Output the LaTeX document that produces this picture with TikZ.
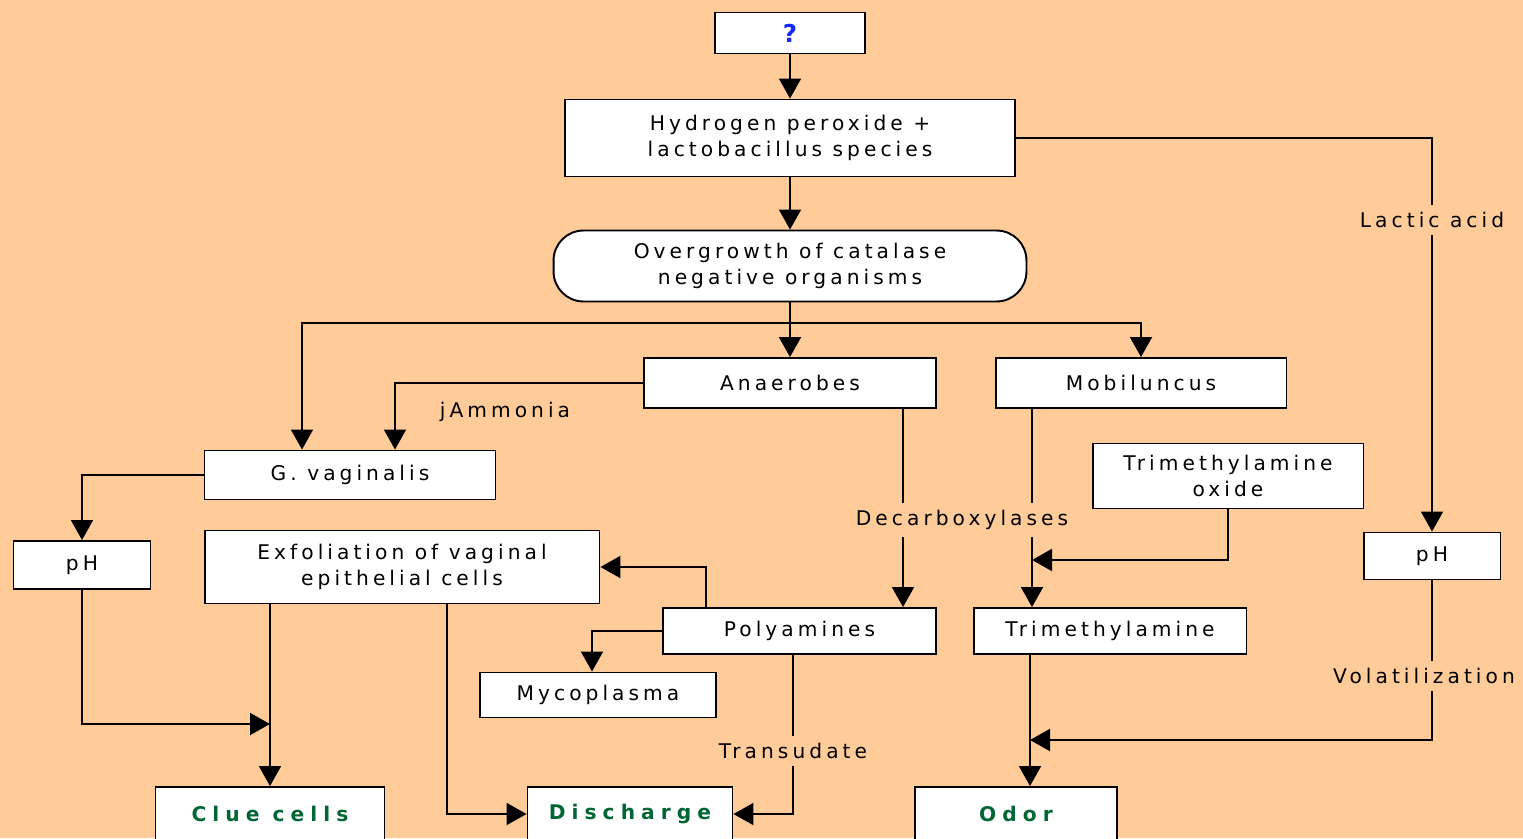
\documentclass[tikz,border=0pt]{standalone}
\usepackage{fontspec}
\setmainfont{DejaVu Sans}[LetterSpace=20,BoldFeatures={LetterSpace=30}]
\usetikzlibrary{arrows.meta}
\definecolor{peach}{RGB}{255,204,153}
\definecolor{resgreen}{RGB}{0,102,51}
\definecolor{qblue}{RGB}{20,40,255}

\begin{document}
\begin{tikzpicture}[x=0.02cm,y=-0.02cm,line width=1.1pt,
                    >={Triangle[length=0.4cm,width=0.44cm]},
                    every node/.style={font=\fontsize{11.5}{14.8}\selectfont},
                    box/.style={draw,fill=white,inner sep=0pt,align=center},
                    res/.style={box,text=resgreen,font=\fontsize{11.5}{14.8}\selectfont\bfseries},
                    lbl/.style={fill=peach,inner xsep=2pt,inner ysep=0.14cm}]

\useasboundingbox (0,0) rectangle (1523,838);
\clip (0,0) rectangle (1523,838);
\fill[peach] (0,0) rectangle (1523,838);

\node[box,minimum width=3cm,minimum height=0.82cm,text=qblue,font=\fontsize{14}{16}\selectfont\bfseries] (q) at (790,33) {?};
\node[box,minimum width=9cm,minimum height=1.54cm] (hp) at (790,138) {Hydrogen peroxide +\\lactobacillus species};
\node[box,rounded corners=0.6cm,minimum width=9.46cm,minimum height=1.42cm] (og) at (790,266) {Overgrowth of catalase\\negative organisms};
\node[box,minimum width=5.84cm,minimum height=1cm] (an) at (790,383) {Anaerobes};
\node[box,minimum width=5.82cm,minimum height=1cm] (mob) at (1141,383) {Mobiluncus};
\node[box,minimum width=5.82cm,minimum height=0.98cm] (gv) at (350,475) {G. vaginalis};
\node[box,minimum width=5.42cm,minimum height=1.3cm] (tmo) at (1228,476) {Trimethylamine\\oxide};
\node[box,minimum width=2.74cm,minimum height=0.96cm] (phl) at (82,565) {pH};
\node[box,minimum width=7.9cm,minimum height=1.46cm] (ex) at (402,567) {Exfoliation of vaginal\\epithelial cells};
\node[box,minimum width=2.74cm,minimum height=0.94cm] (phr) at (1432,556) {pH};
\node[box,minimum width=5.46cm,minimum height=0.92cm] (pa) at (799.5,631) {Polyamines};
\node[box,minimum width=5.46cm,minimum height=0.92cm] (tma) at (1110,631) {Trimethylamine};
\node[box,minimum width=4.72cm,minimum height=0.9cm] (myc) at (598,695) {Mycoplasma};
\node[res,minimum width=4.58cm,minimum height=1.08cm] (clue) at (270,814) {Clue cells};
\node[res,minimum width=4.1cm,minimum height=1.08cm] (dis) at (630,814) {Discharge};
\node[res,minimum width=4.04cm,minimum height=1.08cm] (odor) at (1016,814) {Odor};

\coordinate (split) at (790,323);
\coordinate (decj) at (903,520);
\coordinate (tmaj) at (1032,560);
\coordinate (cluej) at (270,724);
\coordinate (odorj) at (1030,740);

\draw[->] (q) -- (hp);
\draw[->] (hp) -- (og);
\draw[->] (hp.east) -| (phr.north);
\draw[->] (og) -- (an);
\draw[<->] (mob.north) |- (split) -| ([shift={(-48,0)}]gv.north);
\draw[->] (an.west) -| ([shift={(45,0)}]gv.north);
\draw[->] (an.south -| decj) -- (pa.north -| decj);
\draw[->] (mob.south -| tmaj) -- (tma.north -| tmaj);
\draw[->] (tmo.south) |- (tmaj);
\draw[->] (gv.west) -| (phl.north);
\draw[->] (phl.south) |- (cluej);
\draw[->] (ex.south -| cluej) -- (clue.north -| cluej);
\draw[->] ([shift={(45,0)}]ex.south) |- (dis.west);
\draw[->] ([shift={(-93.5,0)}]pa.north) |- (ex.east);
\draw[->] (pa.west) -| ([shift={(-6,0)}]myc.north);
\draw[->] ([shift={(-6.5,0)}]pa.south) |- (dis.east);
\draw[->] (phr.south) |- (odorj);
\draw[->] (tma.south -| odorj) -- (odor.north -| odorj);

\node[lbl] (lac) at (1432,220) {Lactic acid};
\node (amm) at (505,412) {jAmmonia};
\node[lbl] (dec) at (962,520) {Decarboxylases};
\node[lbl] (tra) at (793,751) {Transudate};
\node[lbl] (vol) at (1424,676) {Volatilization};

\end{tikzpicture}
\end{document}
